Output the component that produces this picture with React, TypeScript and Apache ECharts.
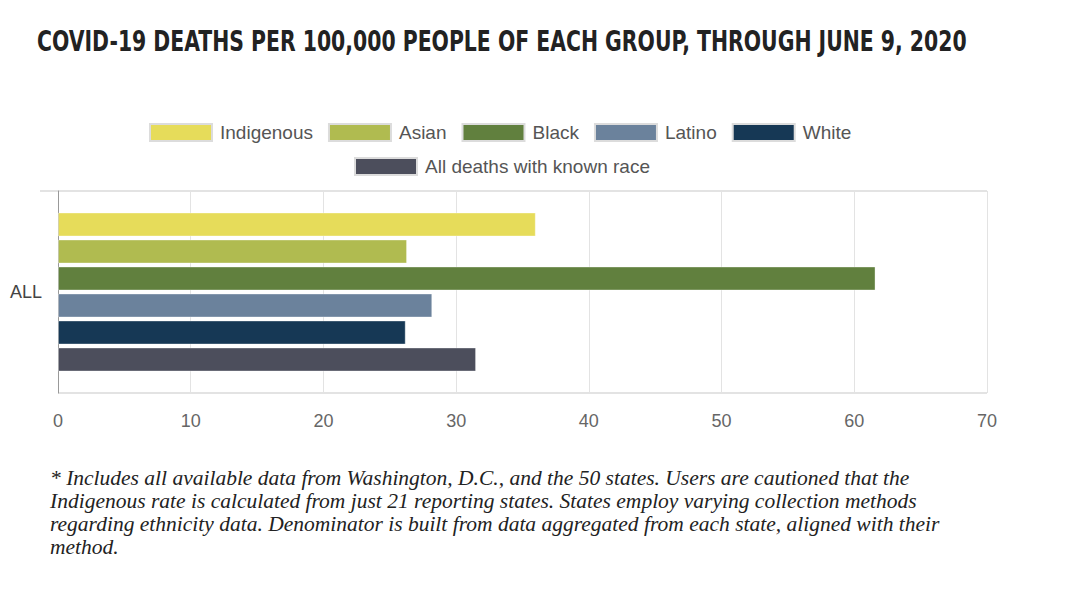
import React, { useEffect, useRef } from "react";
import * as echarts from "echarts";

const categories = ["ALL"];
const seriesNames = ["Indigenous", "Asian", "Black", "Latino", "White", "All deaths with known race"];
const seriesValues = [[36.0], [26.3], [61.6], [28.2], [26.2], [31.5]];
const seriesColors = ["#e6dc5a", "#b0bb50", "#61803e", "#6b829c", "#163855", "#4c4e5c"];
const xTicks = { min: 0, max: 70, interval: 10 };

const titleText = "COVID-19 DEATHS PER 100,000 PEOPLE OF EACH GROUP, THROUGH JUNE 9, 2020";
const noteLines = [
  "* Includes all available data from Washington, D.C., and the 50 states. Users are cautioned that the",
  "Indigenous rate is calculated from just 21 reporting states. States employ varying collection methods",
  "regarding ethnicity data. Denominator is built from data aggregated from each state, aligned with their",
  "method.",
];

export default function App() {
  const ref = useRef<HTMLDivElement>(null);
  useEffect(() => {
    const chart = echarts.init(ref.current!, null, { renderer: "svg" });
    const legendCommon = {
      itemWidth: 62,
      itemHeight: 17,
      itemGap: 15,
      icon: "rect",
      itemStyle: { borderColor: "#dcdcdc", borderWidth: 2 },
      textStyle: { fontSize: 19, color: "#555", fontFamily: "'Liberation Sans', Arial, sans-serif", padding: [0, 0, 0, 3] },
      selectedMode: false,
    };
    chart.setOption({
      animation: false,
      backgroundColor: "#fff",
      legend: [
        { ...legendCommon, data: seriesNames.slice(0, 5), left: 144, top: 118 },
        { ...legendCommon, data: seriesNames.slice(5), left: 349, top: 152 },
      ],
      grid: { left: 58, right: 93, top: 191, height: 202, containLabel: false },
      xAxis: {
        type: "value",
        min: xTicks.min,
        max: xTicks.max,
        interval: xTicks.interval,
        axisLine: { show: false },
        axisTick: { show: false },
        axisLabel: { fontSize: 18, color: "#666", margin: 19, fontFamily: "'Liberation Sans', Arial, sans-serif" },
        splitLine: { lineStyle: { color: "#e3e3e3", width: 1 } },
      },
      yAxis: {
        type: "category",
        data: categories,
        axisLine: { lineStyle: { color: "#999", width: 1 } },
        axisTick: { show: false },
        axisLabel: { fontSize: 18, color: "#444", margin: 16, fontFamily: "'Liberation Sans', Arial, sans-serif" },
        splitLine: { show: true, lineStyle: { color: "#e3e3e3", width: 2 } },
      },
      series: seriesNames.map((name, i) => ({
        type: "bar",
        name,
        data: seriesValues[i],
        barWidth: 24,
        barGap: "12.5%",
        itemStyle: { color: seriesColors[i], borderColor: "rgba(255,255,255,0.35)", borderWidth: 1 },
      })),
      graphic: [
        {
          type: "line",
          shape: { x1: 40, y1: 191, x2: 58, y2: 191 },
          style: { stroke: "#e3e3e3", lineWidth: 2 },
          silent: true,
        },
        {
          type: "text",
          x: 37,
          y: 27,
          scaleX: 0.81,
          style: {
            text: titleText,
            font: "bold 28px 'Liberation Sans Narrow', 'DejaVu Sans Condensed', Roboto, sans-serif",
            fill: "#222",
          },
        },
        {
          type: "text",
          left: 50,
          top: 466,
          style: {
            text: noteLines.join("\n"),
            font: "italic 21.5px 'Liberation Serif', 'DejaVu Serif', serif",
            lineHeight: 23,
            fill: "#222",
          },
        },
      ],
    });
    return () => chart.dispose();
  }, []);
  return (
    <div
      ref={ref}
      style={{ position: "absolute", left: 0, top: 0, width: 1080, height: 601 }}
    />
  );
}
